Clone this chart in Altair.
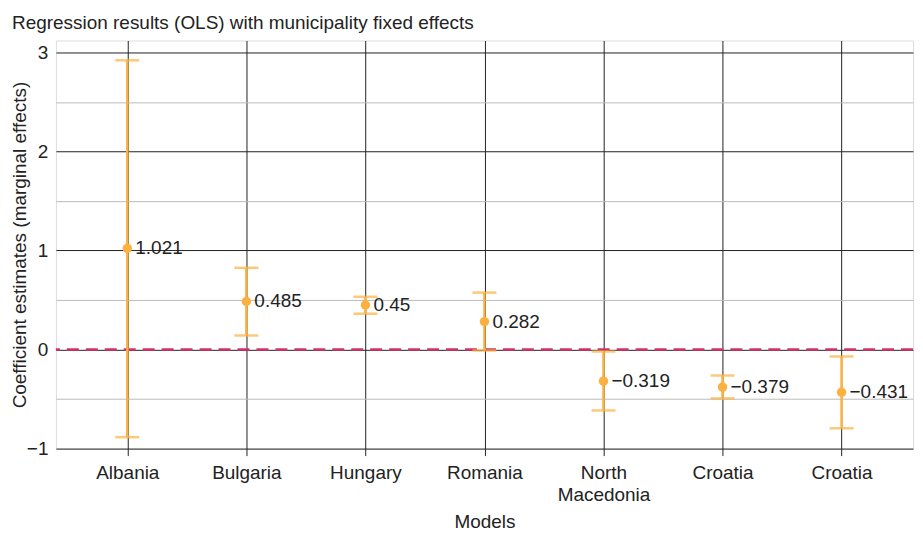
import altair as alt
import pandas as pd

models = ["Albania", "Bulgaria", "Hungary", "Romania", "North Macedonia", "Croatia", "Croatia "]
estimates = [1.021, 0.485, 0.45, 0.282, -0.319, -0.379, -0.431]
lower = [-0.885, 0.142, 0.362, -0.01, -0.615, -0.493, -0.795]
upper = [2.92, 0.825, 0.533, 0.575, -0.02, -0.262, -0.07]
y_ticks = [-1, -0.5, 0, 0.5, 1, 1.5, 2, 2.5, 3]

df = pd.DataFrame({"model": models, "est": estimates, "lo": lower, "hi": upper})

ORANGE = "#fbb040"
FONT = "Liberation Sans"
FS = 19

x_enc = alt.X(
    "model:N",
    sort=models,
    scale=alt.Scale(type="point", padding=0.6),
    title="Models",
    axis=alt.Axis(
        labelExpr="datum.label == 'North Macedonia' ? ['North', 'Macedonia'] : datum.label",
        labelAngle=0,
        labelFontSize=FS,
        labelColor="#222",
        labelFont=FONT,
        labelPadding=8,
        labelLineHeight=22,
        titleFontSize=FS,
        titleFont=FONT,
        titleColor="#222",
        titleFontWeight="normal",
        titlePadding=8,
        domain=False,
        ticks=True,
        tickSize=7,
        tickColor="#222",
        tickWidth=1,
        grid=True,
        gridColor="#222",
        gridWidth=1,
    ),
)

y_scale = alt.Scale(domain=[-1, 3.12], nice=False, zero=False)
y_axis = alt.Axis(
    values=y_ticks,
    format="~g",
    labelExpr="datum.value % 1 === 0 ? datum.label : ''",
    labelFontSize=FS,
    labelColor="#222",
    labelFont=FONT,
    labelPadding=8,
    ticks=False,
    domain=False,
    grid=True,
    gridColor=alt.condition("datum.value % 1 === 0", alt.value("#222"), alt.value("#bbbbbb")),
    gridWidth=1,
    title="Coefficient estimates (marginal effects)",
    titleFontSize=FS,
    titleFont=FONT,
    titleColor="#222",
    titleFontWeight="normal",
    titleX=-26,
)

base = alt.Chart(df)

rules = base.mark_rule(color=ORANGE, strokeWidth=2.5).encode(
    x=x_enc,
    y=alt.Y("lo:Q", scale=y_scale, axis=y_axis),
    y2="hi:Q",
)

caps_hi = base.mark_tick(color=ORANGE, orient="horizontal", size=24, thickness=2.5).encode(
    x=alt.X("model:N", sort=models), y=alt.Y("hi:Q")
)
caps_lo = base.mark_tick(color=ORANGE, orient="horizontal", size=24, thickness=2.5).encode(
    x=alt.X("model:N", sort=models), y=alt.Y("lo:Q")
)

zero_df = pd.DataFrame({"z": [0]})
zero = alt.Chart(zero_df).mark_rule(color="#d1326a", strokeWidth=2.5, strokeDash=[12, 7]).encode(
    y="z:Q"
)

points = base.mark_point(filled=True, color=ORANGE, size=90, opacity=1).encode(
    x=alt.X("model:N", sort=models), y=alt.Y("est:Q")
)

labels = base.mark_text(
    align="left", baseline="middle", dx=8, fontSize=FS, font=FONT, color="#222"
).encode(
    x=alt.X("model:N", sort=models),
    y=alt.Y("est:Q"),
    text=alt.Text("est:Q", format=".3~f"),
)

chart = (
    alt.layer(zero, rules, caps_hi, caps_lo, points, labels)
    .properties(
        width=859,
        height=409,
        title=alt.TitleParams(
            "Regression results (OLS) with municipality fixed effects",
            anchor="start",
            frame="bounds",
            fontSize=FS,
            font=FONT,
            fontWeight="normal",
            color="#222",
            offset=8,
            dx=1,
        ),
        padding={"left": 3, "top": 5, "right": 0, "bottom": 0},
    )
    .configure_view(stroke=None)
    .configure(font=FONT)
)

chart.save("out.html", embed_options={"renderer": "svg", "actions": False})
